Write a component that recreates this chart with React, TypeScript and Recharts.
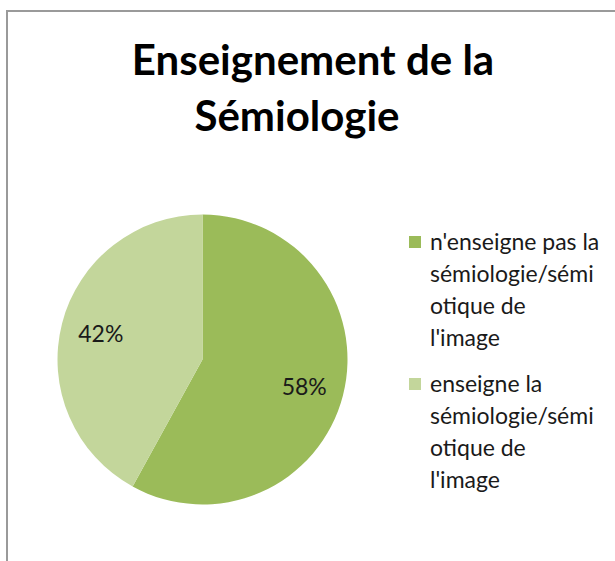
import { PieChart, Pie, Cell, Legend } from 'recharts';

// Répartition des réponses (en %)
const categories = [
  "n'enseigne pas la sémiologie/sémiotique de l'image",
  "enseigne la sémiologie/sémiotique de l'image",
];
const values = [58, 42];
const COLORS = ['#9BBB59', '#C3D69B'];

// texte tel qu'il est coupé dans la légende d'origine
const legendLines = [
  ["n'enseigne pas la", 'sémiologie/sémi', 'otique de', "l'image"],
  ['enseigne la', 'sémiologie/sémi', 'otique de', "l'image"],
];
const titleLines = ['Enseignement de la', 'Sémiologie'];

const data = categories.map((name, i) => ({ name, value: values[i] }));

const FONT = 'Lato, "Open Sans", sans-serif';
const RADIAN = Math.PI / 180;

const renderLabel = ({ cx, cy, midAngle, percent }: any) => {
  const r = 105;
  const x = cx + r * Math.cos(-midAngle * RADIAN);
  const y = cy + r * Math.sin(-midAngle * RADIAN);
  return (
    <text
      x={x}
      y={y}
      fill="#1a1a1a"
      textAnchor="middle"
      dominantBaseline="central"
      fontSize={23}
      fontFamily={FONT}
    >
      {`${Math.round(percent * 100)}%`}
    </text>
  );
};

const renderLegend = () => (
  <div style={{ fontFamily: FONT, fontSize: 23, color: '#1a1a1a' }}>
    {legendLines.map((lines, i) => (
      <div key={i} style={{ position: 'relative', marginBottom: 14, paddingLeft: 22 }}>
        <span
          style={{
            position: 'absolute',
            left: 1,
            top: 11,
            width: 12,
            height: 12,
            background: COLORS[i],
          }}
        />
        {lines.map((l, j) => (
          <div key={j} style={{ lineHeight: '32px', whiteSpace: 'nowrap' }}>
            {l}
          </div>
        ))}
      </div>
    ))}
  </div>
);

export default function App() {
  return (
    <div
      style={{
        position: 'absolute',
        left: 0,
        top: 0,
        width: 615,
        height: 561,
        overflow: 'hidden',
        background: '#fff',
      }}
    >
      <div
        style={{
          position: 'absolute',
          left: 6,
          top: 10,
          width: 700,
          height: 700,
          border: '2px solid #9a9a9a',
        }}
      />
      {titleLines.map((t, i) => (
        <div
          key={t}
          style={{
            position: 'absolute',
            left: (i === 0 ? 313 : 297) - 220,
            top: 33 + i * 56,
            width: 440,
            textAlign: 'center',
            fontFamily: FONT,
            fontWeight: 'bold',
            fontSize: 42,
            lineHeight: '52px',
            color: '#000',
          }}
        >
          {t}
        </div>
      ))}
      <div style={{ position: 'absolute', left: 0, top: 0 }}>
        <PieChart width={615} height={561} margin={{ top: 0, right: 0, bottom: 0, left: 0 }}>
          <Pie
            data={data}
            dataKey="value"
            nameKey="name"
            cx={202.5}
            cy={359.5}
            outerRadius={145}
            startAngle={90}
            endAngle={-270}
            stroke="none"
            labelLine={false}
            label={renderLabel}
            isAnimationActive={false}
          >
            {data.map((entry, index) => (
              <Cell key={`cell-${index}`} fill={COLORS[index % COLORS.length]} />
            ))}
          </Pie>
          <Legend
            layout="vertical"
            align="right"
            verticalAlign="top"
            content={renderLegend}
            wrapperStyle={{ position: 'absolute', left: 408, top: 225, width: 205 }}
          />
        </PieChart>
      </div>
    </div>
  );
}
